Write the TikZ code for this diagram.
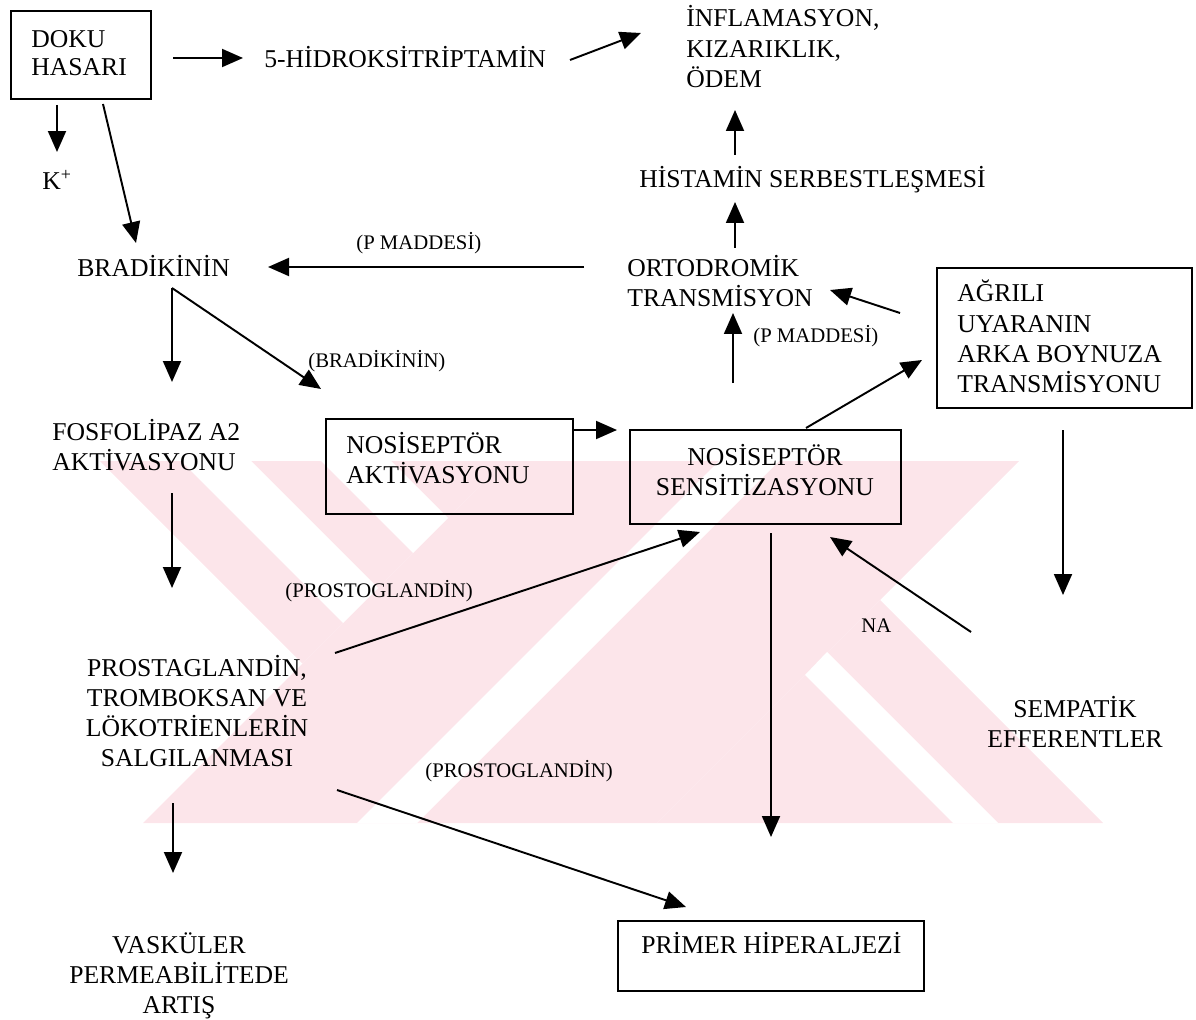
\documentclass[tikz,border=0pt]{standalone}
\usepackage{fontspec}
\setmainfont{Liberation Serif}
\usetikzlibrary{arrows.meta}
\definecolor{wm}{RGB}{252,229,234}
\newcommand{\tl}[1]{\begin{tabular}[t]{@{}l@{}}#1\end{tabular}}
\newcommand{\tc}[1]{\begin{tabular}[t]{@{}c@{}}#1\end{tabular}}
\begin{document}
\begin{tikzpicture}[x=0.02cm,y=-0.02cm,
  box/.style={draw, line width=1.1pt, inner sep=0pt, anchor=north west},
  txt/.style={inner sep=0pt, font=\fontsize{14.6}{17.1}\selectfont},
  txtn/.style={inner sep=0pt, font=\fontsize{14.6}{15.9}\selectfont},
  lbl/.style={inner sep=0pt, font=\fontsize{11.8}{14}\selectfont},
  arr/.style={line width=1.1pt, -{Triangle[length=0.42cm,width=0.36cm]}},
  ln/.style={line width=1.1pt}
]
\useasboundingbox (0,0) rectangle (1196,1020);
% watermark
\fill[wm] (100,461) -- (505,461) -- (302.5,663.5) -- cycle;
\fill[wm] (505,461) -- (1019,461) -- (657,823) -- (143,823) -- cycle;
\fill[wm] (880,600) -- (1103,823) -- (657,823) -- cycle;
\fill[white] (181,461) -- (251,461) -- (378,588) -- (343,623) -- cycle;
\fill[white] (321,461) -- (391,461) -- (448,518) -- (413,553) -- cycle;
\fill[white] (719,461) -- (779,461) -- (417,823) -- (357,823) -- cycle;
\fill[white] (805,675) -- (827,652) -- (998,823) -- (953,823) -- cycle;

% boxes
\node[box, minimum width=2.8cm, minimum height=1.76cm] (doku) at (10,10) {};
\node[box, minimum width=5.1cm, minimum height=2.8cm] (agri) at (936,267) {};
\node[box, minimum width=4.94cm, minimum height=1.9cm] (akt) at (325,418) {};
\node[box, minimum width=5.42cm, minimum height=1.88cm] (sens) at (629,429) {};
\node[box, minimum width=6.12cm, minimum height=1.4cm] (prim) at (617,920) {};

% texts
\node[txtn, anchor=base west] (dokuT) at (31,48) {\tl{DOKU\\HASARI}};
\node[txt, anchor=base west] (ht) at (264,68) {5-HİDROKSİTRİPTAMİN};
\node[txt, anchor=base west] (infl) at (686,27) {\tl{İNFLAMASYON,\\KIZARIKLIK,\\ÖDEM}};
\node[txt, anchor=base west] (kp) at (42,190) {K\textsuperscript{+}};
\node[txt, anchor=base west] (brad) at (77,277) {BRADİKİNİN};
\node[lbl, anchor=base west] (pm1) at (356,250) {(P MADDESİ)};
\node[txt, anchor=base west] (hist) at (639,188) {HİSTAMİN SERBESTLEŞMESİ};
\node[txtn, anchor=base west] (orto) at (627,277) {\tl{ORTODROMİK\\TRANSMİSYON}};
\node[txt, anchor=base west] (agriT) at (957,302) {\tl{AĞRILI\\UYARANIN\\ARKA BOYNUZA\\TRANSMİSYONU}};
\node[lbl, anchor=base west] (pm2) at (753,342) {(P MADDESİ)};
\node[lbl, anchor=base west] (bk) at (308,367) {(BRADİKİNİN)};
\node[txt, anchor=base west] (fosf) at (52,440) {\tl{FOSFOLİPAZ A2\\AKTİVASYONU}};
\node[txt, anchor=base west] (aktT) at (346,453) {\tl{NOSİSEPTÖR\\AKTİVASYONU}};
\node[txt, anchor=base] (sensT) at (765,465) {\tc{NOSİSEPTÖR\\SENSİTİZASYONU}};
\node[lbl, anchor=base west] (pg1) at (285,597) {(PROSTOGLANDİN)};
\node[lbl, anchor=base west] (na) at (861,632) {NA};
\node[txt, anchor=base] (pros) at (197,676) {\tc{PROSTAGLANDİN,\\TROMBOKSAN VE\\LÖKOTRİENLERİN\\SALGILANMASI}};
\node[txt, anchor=base] (semp) at (1075,717) {\tc{SEMPATİK\\EFFERENTLER}};
\node[lbl, anchor=base west] (pg2) at (425,777) {(PROSTOGLANDİN)};
\node[txt, anchor=base] (vask) at (179,953) {\tc{VASKÜLER\\PERMEABİLİTEDE\\ARTIŞ}};
\node[txt, anchor=base west] (primT) at (641,953) {PRİMER HİPERALJEZİ};

% connector end points
\coordinate (dokuE) at (173,58);
\coordinate (htW) at (243,58);
\coordinate (htE) at (570,60);
\coordinate (inflW) at (641,33);
\coordinate (dokuS1) at (57,105);
\coordinate (kN) at (57,152);
\coordinate (dokuS2) at (103,104);
\coordinate (bradN) at (136,243);
\coordinate (ortoW) at (584,267);
\coordinate (bradE) at (268,267);
\coordinate (histN) at (735,155);
\coordinate (inflS) at (735,110);
\coordinate (ortoN) at (735,248);
\coordinate (histS) at (735,202);
\coordinate (agriW) at (900,313);
\coordinate (ortoE) at (830,290);
\coordinate (sensN) at (733,383);
\coordinate (ortoS) at (733,313);
\coordinate (sensNE) at (806,428);
\coordinate (agriSW) at (922,360);
\coordinate (bradS) at (172,288);
\coordinate (fosfN) at (172,382);
\coordinate (bkTip) at (321,389);
\coordinate (aktE) at (572,430);
\coordinate (sensW) at (617,430);
\coordinate (fosfS) at (172,493);
\coordinate (prosN) at (172,588);
\coordinate (prosNE) at (335,653);
\coordinate (sensSW) at (700,532);
\coordinate (sensS) at (771,533);
\coordinate (primN) at (771,837);
\coordinate (sempNW) at (971,632);
\coordinate (sensSE) at (830,537);
\coordinate (agriS) at (1063,430);
\coordinate (sempN) at (1063,595);
\coordinate (prosS) at (173,803);
\coordinate (vaskN) at (173,873);
\coordinate (prosSE) at (337,790);
\coordinate (primNW) at (686,907);

% connectors
\draw[arr] (dokuE) -- (htW);
\draw[arr] (htE) -- (inflW);
\draw[arr] (dokuS1) -- (kN);
\draw[arr] (dokuS2) -- (bradN);
\draw[arr] (ortoW) -- (bradE);
\draw[arr] (histN) -- (inflS);
\draw[arr] (ortoN) -- (histS);
\draw[arr] (agriW) -- (ortoE);
\draw[arr] (sensN) -- (ortoS);
\draw[arr] (sensNE) -- (agriSW);
\draw[arr] (bradS) -- (fosfN);
\draw[arr] (bradS) -- (bkTip);
\draw[arr] (aktE) -- (sensW);
\draw[arr] (fosfS) -- (prosN);
\draw[arr] (prosNE) -- (sensSW);
\draw[arr] (sensS) -- (primN);
\draw[arr] (sempNW) -- (sensSE);
\draw[arr] (agriS) -- (sempN);
\draw[arr] (prosS) -- (vaskN);
\draw[arr] (prosSE) -- (primNW);
\end{tikzpicture}
\end{document}
